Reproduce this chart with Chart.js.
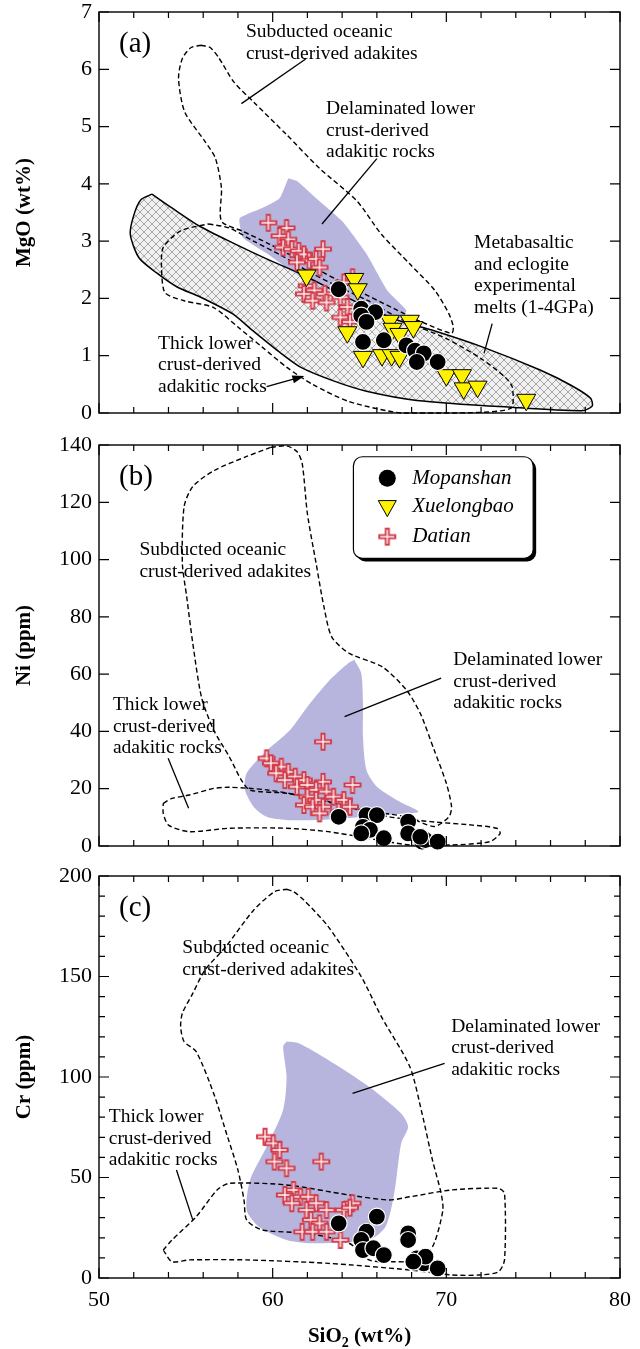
<!DOCTYPE html>
<html>
<head>
<meta charset="utf-8">
<script src="https://cdn.jsdelivr.net/npm/chart.js@4.4.1/dist/chart.umd.min.js"></script>
<style>
  body { margin: 0; background: #fff; width: 640px; height: 1349px; position: relative; overflow: hidden; }
  canvas { position: absolute; left: 0; }
</style>
</head>
<body>
<canvas id="chartA" width="640" height="430" style="top:0"></canvas>
<canvas id="chartB" width="640" height="430" style="top:430px"></canvas>
<canvas id="chartC" width="640" height="489" style="top:860px"></canvas>
<script>
const SERIF = "'Liberation Serif', 'Times New Roman', serif"

// SiO2 (wt%) axis shared by all panels
const sio2Min = 50
const sio2Max = 80

// ---- (a) MgO wt% ----
const mgoMax = 7
const mopanshanMgO = [[63.8,2.16],[65.1,1.82],[65.9,1.76],[65.1,1.70],[65.4,1.59],[65.2,1.24],[66.4,1.27],[67.7,1.18],[68.2,1.09],[68.7,1.04],[68.3,0.89],[69.5,0.89]]
const xuelongbaoMgO = [[61.95,2.4],[64.7,2.34],[64.9,2.16],[66.75,1.61],[67.9,1.61],[64.3,1.41],[66.9,1.47],[67.3,1.38],[68.1,1.5],[65.2,0.98],[66.3,1.01],[66.85,1.01],[67.3,0.98],[70.0,0.66],[70.9,0.66],[71.0,0.43],[71.8,0.46],[74.6,0.23]]
const datianMgO = [[59.75,3.32],[60.8,3.23],[60.4,3.09],[60.9,3.03],[60.6,2.89],[61.1,2.86],[61.5,2.83],[61.8,2.77],[62.9,2.86],[62.1,2.66],[62.5,2.69],[61.4,2.63],[62.7,2.54],[64.6,2.37],[64.1,2.28],[61.96,2.22],[62.4,2.14],[63.0,2.08],[61.8,2.08],[63.9,2.02],[62.3,1.96],[63.1,1.93],[64.3,1.85],[63.9,1.67],[64.45,1.59]]
const subductedMgO = [[55.87,6.42],[56.4,6.38],[56.9,6.2],[57.76,5.78],[58.9,5.43],[60.8,4.86],[62.7,4.27],[64.85,3.7],[66.26,3.12],[67.9,2.6],[69.34,2.14],[70.15,1.73],[70.4,1.5],[70.3,1.39],[68.5,1.6],[67,1.82],[64.5,2.2],[62,2.6],[59.8,2.95],[58.3,3.17],[57.05,3.35],[57.05,3.93],[56.7,4.45],[56.1,4.74],[54.93,5.26],[54.58,5.84],[54.8,6.19],[55.3,6.38]]
const thickLowerMgO = [[56.3,3.3],[57.5,3.23],[58.9,3.0],[60.5,2.75],[62.0,2.48],[63.8,2.2],[65.5,1.96],[67.5,1.62],[70.0,1.3],[72.0,0.95],[73.4,0.62],[73.8,0.45],[73.7,0.08],[70.5,0.0],[67.4,0.0],[64.4,0.2],[62.3,0.5],[60.8,0.8],[59.4,1.15],[58.0,1.5],[56.6,1.84],[54.9,1.96],[53.8,2.1],[53.6,2.54],[53.7,2.89],[54.7,3.18]]
const metabasaltMgO = [[53.05,3.82],[54.2,3.58],[55.8,3.26],[57.7,2.97],[59.65,2.69],[61.6,2.43],[63.5,2.14],[65.4,1.85],[67.3,1.61],[69.25,1.44],[72.1,1.15],[75.4,0.75],[77.2,0.48],[78.3,0.26],[78.4,0.12],[77.8,0.04],[73.7,0.1],[68.3,0.22],[65.4,0.38],[63.5,0.56],[61.6,0.8],[60.4,1.06],[58.8,1.45],[57.7,1.73],[55.8,2.03],[54.5,2.2],[53.3,2.45],[52.3,2.71],[51.8,3.12],[52.0,3.45],[52.4,3.72]]
const delaminatedMgO = [[60.9,4.1],[61.4,4.05],[62.5,3.75],[64.0,3.35],[65.4,2.78],[66.6,2.14],[67.7,1.79],[67.3,1.65],[65,1.85],[63,2.1],[61.2,2.45],[59.7,2.78],[58.3,3.06],[58.1,3.4],[59.4,3.58],[60.4,3.75]]

// ---- (b) Ni ppm ----
const niMax = 140
const mopanshanNi = [[63.8,10.2],[65.4,10.8],[66.0,10.8],[65.2,6.7],[65.6,5.6],[65.1,4.4],[66.4,2.7],[67.8,8.5],[67.8,4.4],[68.6,1.5],[68.8,2.1],[69.5,1.5],[68.5,3.2]]
const datianNi = [[62.9,36.4],[59.65,30.6],[59.9,28.9],[60.5,27.7],[60.9,25.9],[60.2,25.4],[61.3,24.2],[60.7,23],[61.8,23],[62.9,22.4],[61.4,20.7],[62,21.3],[64.6,21.3],[62.5,19.6],[63.1,19],[62,17.2],[62.5,16.1],[63.5,17.2],[64.1,16.1],[61.8,14.3],[62.3,13.7],[62.9,13.7],[64.45,13.7],[62.7,11.4],[63.8,12]]
const subductedNi = [[59.9,139.2],[60.8,139.7],[61.4,137.7],[61.7,133.6],[62.0,116],[62.5,98.7],[62.95,83.6],[63.4,73],[64.4,67.3],[66.3,62.6],[67.7,54.5],[68.5,46.3],[69.3,33.5],[70.0,21.9],[70.3,13.7],[70.15,10.2],[69.3,6.8],[67.7,10.2],[65,12.6],[62.7,16.1],[60.8,18.4],[58.7,19.5],[58.2,23],[57.5,31.2],[56.6,40.5],[55.9,52],[55.4,70.8],[55.05,87],[54.8,98.7],[54.9,118.5],[55.4,125.5],[56.6,131],[58.5,136]]
const thickLowerNi = [[53.7,14.9],[54.2,16.6],[55.2,17.8],[56.6,20.1],[57.5,20.5],[59.65,19.6],[62,17.2],[64.4,13.7],[66.7,10.2],[69.1,8.5],[71.5,7.3],[72.9,6.2],[73.1,4.4],[72.5,1.5],[70.3,0.35],[67.9,0.35],[65.5,2.7],[63.2,5],[60.8,6.2],[57.5,6.2],[55.2,5],[54,7.3],[53.7,11.4]]
const delaminatedNi = [[64.7,65],[65.1,60.3],[65.2,49.8],[65.2,38.2],[65.4,26.5],[66,20.7],[67.3,15.5],[68.4,12],[67.7,11.4],[65,10],[62.7,9.1],[60.8,9.1],[59.65,10.2],[58.9,13.7],[58.4,19.6],[58.5,25.4],[59.5,32.4],[61,40.5],[62,48.6],[63.3,58],[64.35,63.8]]

// ---- (c) Cr ppm ----
const crMax = 200
const mopanshanCr = [[63.8,27.2],[66,30.5],[65.4,23],[65.1,18.9],[65.2,13.9],[65.8,14.8],[66.4,11.4],[67.8,22.2],[67.8,18.9],[68.3,9.8],[68.7,7.3],[68.8,10.6],[69.5,4.8],[68.1,8.1]]
const datianCr = [[59.56,70.3],[60.03,67],[60.4,63.7],[60.1,57.9],[60.8,54.6],[62.8,57.9],[61.2,43.8],[60.7,41.3],[61.6,40.4],[62.05,40.4],[61.1,37.2],[62.5,37.2],[64.6,37.2],[61.95,33.8],[63.1,33.8],[64.1,33.8],[62.2,28.9],[62.7,27.2],[61.7,23],[62.3,23],[63.1,23],[63.9,18.9],[64.45,35]]
const subductedCr = [[60.8,193.4],[61.2,192.2],[61.8,188],[63.2,174.8],[65.1,149.9],[66.26,130],[67.9,105.1],[68.6,81.9],[69.2,58.7],[69.7,42.1],[69.8,33.8],[69.3,17.3],[68.6,9],[67,8.1],[65.55,9],[64.4,17.3],[62,22.2],[59.4,23.9],[58.5,28.9],[58.35,38.8],[58,53.7],[57.4,70.3],[56.6,91.9],[55.6,112.6],[54.9,117.6],[54.7,125],[54.8,131.7],[55.4,141.6],[56.1,153.2],[57.3,164.8],[58.9,183],[60.1,192.2]]
const thickLowerCr = [[53.7,13.9],[54.2,8.1],[55.2,9],[58.5,9],[63.2,7.3],[67.9,4],[70.3,1.5],[71.9,1.5],[73,3.1],[73.35,9],[73.35,42.1],[73,44.6],[70.3,43.8],[67.9,40.4],[66.7,38.8],[64.4,41.3],[60.8,46.3],[57.5,47.1],[56.8,43.8],[55.6,30.5],[54.2,18.9]]
const delaminatedCr = [[60.8,117.6],[61.5,116.8],[63.2,108.5],[65.55,95.2],[67.4,81.9],[67.8,75.3],[67.4,67],[67,42.1],[66.5,25.5],[65.55,18.9],[62.25,17.3],[60.8,18.9],[59.2,25.5],[58.5,33.8],[58.7,48.8],[59.65,65.3],[60.6,83.6],[60.8,100.1],[60.6,115.1]]

// labels placed in data units
const notesA = [
  {at:[58.46,6.65], text:['Subducted oceanic','crust-derived adakites']},
  {at:[63.07,5.31], text:['Delaminated lower','crust-derived','adakitic rocks']},
  {at:[71.6,2.97], text:['Metabasaltic','and eclogite','experimental','melts (1-4GPa)']},
  {at:[53.4,1.21], text:['Thick lower','crust-derived','adakitic rocks']}
]
const leadersA = [
  {from:[61.9,6.18], to:[58.2,5.4]},
  {from:[66.0,4.44], to:[62.84,3.3]},
  {from:[72.64,1.56], to:[72.17,1.04]},
  {from:[59.65,0.46], to:[61.66,0.63], arrow:true}
]
const notesB = [
  {at:[52.33,103.4], text:['Subducted oceanic','crust-derived adakites']},
  {at:[70.4,64.9], text:['Delaminated lower','crust-derived','adakitic rocks']},
  {at:[50.8,49.2], text:['Thick lower','crust-derived','adakitic rocks']}
]
const leadersB = [
  {from:[69.7,58.6], to:[64.14,45.2]},
  {from:[53.98,30.6], to:[55.16,13.2]}
]
const notesC = [
  {at:[54.8,164.0], text:['Subducted oceanic','crust-derived adakites']},
  {at:[70.28,125], text:['Delaminated lower','crust-derived','adakitic rocks']},
  {at:[50.56,80.2], text:['Thick lower','crust-derived','adakitic rocks']}
]
const leadersC = [
  {from:[69.9,106.8], to:[64.6,91.9]},
  {from:[54.46,53.7], to:[55.4,28.9]}
]
const legendNames = ['Mopanshan','Xuelongbao','Datian']

// ---- marker / pattern helpers ----
function makeCross(){
  const c = document.createElement('canvas')
  c.width = c.height = 20
  const g = c.getContext('2d')
  g.strokeStyle = '#d23c4c'; g.lineWidth = 5
  g.beginPath(); g.moveTo(1,10); g.lineTo(19,10); g.moveTo(10,1); g.lineTo(10,19); g.stroke()
  g.strokeStyle = '#fff4f4'; g.lineWidth = 1.4
  g.beginPath(); g.moveTo(3,10); g.lineTo(17,10); g.moveTo(10,3); g.lineTo(10,17); g.stroke()
  return c
}
const crossImg = makeCross()

function makeHatch(){
  const c = document.createElement('canvas')
  c.width = c.height = 8
  const g = c.getContext('2d')
  g.fillStyle = 'rgba(232,232,232,0.6)'; g.fillRect(0,0,8,8)
  g.strokeStyle = 'rgba(100,100,100,0.75)'; g.lineWidth = 0.7
  g.beginPath(); g.moveTo(0,0); g.lineTo(8,8); g.moveTo(8,0); g.lineTo(0,8); g.stroke()
  return g.createPattern(c, 'repeat')
}
const hatch = makeHatch()
const LAVENDER = 'rgb(183,181,222)'

const pts = arr => arr.map(p => ({x:p[0], y:p[1]}))

function region(arr, opt){
  return Object.assign({
    data: pts(arr.concat([arr[0]])), showLine: true, pointRadius: 0, tension: 0.25,
    borderColor: '#000', borderWidth: 1.4, borderDash: [5,3], fill: false, clip: false, order: 5
  }, opt)
}
const mopanshan = arr => ({data: pts(arr), pointStyle:'circle', pointRadius:8.5, pointBackgroundColor:'#000', pointBorderColor:'#fff', pointBorderWidth:1.2, clip:false, order:1})
const xuelongbao = arr => ({data: pts(arr), pointStyle:'triangle', pointRotation:180, pointRadius:11, pointBackgroundColor:'#fff200', pointBorderColor:'#000', pointBorderWidth:1, clip:false, order:2})
const datian = arr => ({data: pts(arr), pointStyle: crossImg, pointRadius:10, clip:false, order:3})

// frame, inward ticks, notes, legend
const decor = {
  id: 'decor',
  afterDatasetsDraw(chart, args, o){
    const {ctx, chartArea: a, scales: {x, y}} = chart
    ctx.save()
    ctx.strokeStyle = '#000'
    ctx.lineWidth = 1.4
    ctx.strokeRect(a.left, a.top, a.right - a.left, a.bottom - a.top)
    ctx.lineWidth = 1.2
    ctx.beginPath()
    for (let v = x.min; v <= x.max + 1e-9; v += o.xMinor){
      const len = Math.abs(v % o.xMajor) < 1e-6 ? 10 : 6
      const px = x.getPixelForValue(v)
      ctx.moveTo(px, a.bottom); ctx.lineTo(px, a.bottom - len)
      ctx.moveTo(px, a.top); ctx.lineTo(px, a.top + len)
    }
    for (let v = y.min; v <= y.max + 1e-9; v += o.yMinor){
      const len = Math.abs(v % o.yMajor) < 1e-6 ? 10 : 6
      const py = y.getPixelForValue(v)
      ctx.moveTo(a.left, py); ctx.lineTo(a.left + len, py)
      ctx.moveTo(a.right, py); ctx.lineTo(a.right - len, py)
    }
    ctx.stroke()

    // panel letter
    ctx.fillStyle = '#000'
    ctx.font = '29px ' + SERIF
    ctx.textBaseline = 'middle'
    ctx.fillText(o.letter, a.left + 20, a.top + 32)

    // region notes
    ctx.font = '19.5px ' + SERIF
    for (const n of o.notes){
      const px = x.getPixelForValue(n.at[0]), py = y.getPixelForValue(n.at[1])
      n.text.forEach((t, i) => ctx.fillText(t, px, py + i * 21.6))
    }
    ctx.lineWidth = 1.3
    for (const l of o.leaders){
      const x1 = x.getPixelForValue(l.from[0]), y1 = y.getPixelForValue(l.from[1])
      const x2 = x.getPixelForValue(l.to[0]), y2 = y.getPixelForValue(l.to[1])
      ctx.beginPath(); ctx.moveTo(x1, y1); ctx.lineTo(x2, y2); ctx.stroke()
      if (l.arrow){
        const ang = Math.atan2(y2 - y1, x2 - x1)
        ctx.beginPath()
        ctx.moveTo(x2 + 3 * Math.cos(ang), y2 + 3 * Math.sin(ang))
        ctx.lineTo(x2 - 9 * Math.cos(ang) - 4 * Math.sin(ang), y2 - 9 * Math.sin(ang) + 4 * Math.cos(ang))
        ctx.lineTo(x2 - 9 * Math.cos(ang) + 4 * Math.sin(ang), y2 - 9 * Math.sin(ang) - 4 * Math.cos(ang))
        ctx.closePath(); ctx.fill()
      }
    }

    // legend box (panel b)
    if (o.legend){
      const bx0 = x.getPixelForValue(64.65), bx1 = x.getPixelForValue(75.0)
      const by0 = y.getPixelForValue(135.9), by1 = y.getPixelForValue(100.4)
      ctx.fillStyle = '#000'
      ctx.beginPath(); ctx.roundRect(bx0 + 3, by0 + 3, bx1 - bx0, by1 - by0, 9); ctx.fill()
      ctx.fillStyle = '#fff'; ctx.lineWidth = 1.2
      ctx.beginPath(); ctx.roundRect(bx0, by0, bx1 - bx0, by1 - by0, 9); ctx.fill(); ctx.stroke()
      const mx = x.getPixelForValue(66.6), tx = x.getPixelForValue(68.04)
      const rows = [128.4, 118.5, 108].map(v => y.getPixelForValue(v))
      ctx.fillStyle = '#000'
      ctx.beginPath(); ctx.arc(mx, rows[0], 8.5, 0, Math.PI * 2); ctx.fill()
      ctx.fillStyle = '#fff200'; ctx.lineWidth = 1
      ctx.beginPath()
      ctx.moveTo(mx, rows[1] + 10); ctx.lineTo(mx - 9, rows[1] - 6); ctx.lineTo(mx + 9, rows[1] - 6)
      ctx.closePath(); ctx.fill(); ctx.stroke()
      ctx.drawImage(crossImg, mx - 10, rows[2] - 10)
      ctx.fillStyle = '#000'
      ctx.font = 'italic 21px ' + SERIF
      legendNames.forEach((t, i) => ctx.fillText(t, tx, rows[i]))
    }

    // SiO2 axis title (bottom panel)
    if (o.xTitle){
      ctx.font = 'bold 21px ' + SERIF
      const w1 = ctx.measureText('SiO').width, w3 = ctx.measureText(' (wt%)').width
      ctx.font = 'bold 14px ' + SERIF
      const w2 = ctx.measureText('2').width
      const sx = (a.left + a.right) / 2 - (w1 + w2 + w3) / 2
      const base = chart.height - 7
      ctx.textBaseline = 'alphabetic'
      ctx.font = 'bold 21px ' + SERIF
      ctx.fillText('SiO', sx, base)
      ctx.font = 'bold 14px ' + SERIF
      ctx.fillText('2', sx + w1, base + 5)
      ctx.font = 'bold 21px ' + SERIF
      ctx.fillText(' (wt%)', sx + w1 + w2, base)
    }
    ctx.restore()
  }
}

function makePanel(id, cfg){
  new Chart(document.getElementById(id), {
    type: 'scatter',
    data: {datasets: cfg.datasets},
    options: {
      responsive: false,
      animation: false,
      events: [],
      layout: {padding: {left: 0, right: 20, top: cfg.top, bottom: 0}},
      plugins: {legend: {display: false}, tooltip: {enabled: false}, decor: cfg.decor},
      scales: {
        x: {
          type: 'linear', min: sio2Min, max: sio2Max,
          grid: {display: false, drawTicks: false}, border: {display: false},
          ticks: {display: cfg.showX, stepSize: 10, color: '#000', padding: 9, font: {family: SERIF, size: 22}},
          afterFit: s => { s.height = cfg.xHeight; s.paddingLeft = 0; s.paddingRight = 0 }
        },
        y: {
          type: 'linear', min: 0, max: cfg.yMax,
          grid: {display: false, drawTicks: false}, border: {display: false},
          ticks: {stepSize: cfg.yStep, color: '#000', padding: 7, font: {family: SERIF, size: 22}},
          title: {display: true, text: cfg.yTitle, color: '#000', padding: {top: 12, bottom: 0}, font: {family: SERIF, size: 21, weight: 'bold'}},
          afterFit: s => { s.width = 99; s.paddingTop = 0; s.paddingBottom = 0 }
        }
      }
    },
    plugins: [decor]
  })
}

makePanel('chartA', {
  top: 11, xHeight: 17, showX: false, yMax: mgoMax, yStep: 1, yTitle: 'MgO (wt%)',
  datasets: [
    mopanshan(mopanshanMgO), xuelongbao(xuelongbaoMgO), datian(datianMgO),
    region(subductedMgO, {}),
    region(thickLowerMgO, {}),
    region(metabasaltMgO, {borderDash: [], borderWidth: 1.5, fill: 'shape', backgroundColor: hatch, order: 8}),
    region(delaminatedMgO, {borderWidth: 0, fill: 'shape', backgroundColor: LAVENDER, tension: 0.15, order: 10})
  ],
  decor: {xMinor: 2, xMajor: 10, yMinor: 1, yMajor: 1, letter: '(a)', notes: notesA, leaders: leadersA}
})

makePanel('chartB', {
  top: 15, xHeight: 14, showX: false, yMax: niMax, yStep: 20, yTitle: 'Ni (ppm)',
  datasets: [
    mopanshan(mopanshanNi), datian(datianNi),
    region(subductedNi, {}),
    region(thickLowerNi, {}),
    region(delaminatedNi, {borderWidth: 0, fill: 'shape', backgroundColor: LAVENDER, order: 10})
  ],
  decor: {xMinor: 2, xMajor: 10, yMinor: 20, yMajor: 20, letter: '(b)', notes: notesB, leaders: leadersB, legend: true}
})

makePanel('chartC', {
  top: 16, xHeight: 71, showX: true, yMax: crMax, yStep: 50, yTitle: 'Cr (ppm)',
  datasets: [
    mopanshan(mopanshanCr), datian(datianCr),
    region(subductedCr, {}),
    region(thickLowerCr, {}),
    region(delaminatedCr, {borderWidth: 0, fill: 'shape', backgroundColor: LAVENDER, order: 10})
  ],
  decor: {xMinor: 2, xMajor: 10, yMinor: 10, yMajor: 50, letter: '(c)', notes: notesC, leaders: leadersC, xTitle: true}
})
</script>
</body>
</html>
